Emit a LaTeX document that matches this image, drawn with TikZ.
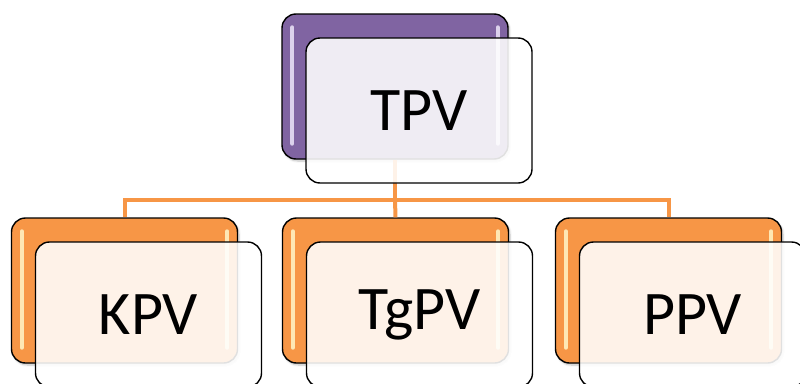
\documentclass[tikz,border=0pt]{standalone}
\usepackage{fontspec}
\setmainfont{Carlito}
\usetikzlibrary{shadows.blur}
\definecolor{accpurple}{HTML}{8064A2}
\definecolor{accorange}{HTML}{F79646}
\definecolor{glowpurple}{HTML}{E6DDF5}
\definecolor{gloworange}{HTML}{FFF0C0}
\tikzset{
  x=1pt, y=-1pt,
  backcard/.style={draw=black, line width=1.4pt, rounded corners=14pt,
    minimum width=226pt, minimum height=145pt, inner sep=0pt,
    blur shadow={shadow xshift=1.5pt, shadow yshift=-2pt, shadow opacity=25, shadow blur steps=6}},
  frontcard/.style={draw=black, line width=1.4pt, rounded corners=14pt,
    minimum width=226pt, minimum height=145pt, inner sep=0pt,
    fill=white, fill opacity=0.88, text opacity=1,
    font=\fontsize{62}{62}\selectfont},
  link/.style={draw=accorange, line width=4pt},
  gloss/.style={line width=4pt, line cap=round, opacity=0.9}
}
\begin{document}
\begin{tikzpicture}
\useasboundingbox (0,0) rectangle (800,383);
\clip (0,0) rectangle (800,383);

% back cards
\node[backcard, fill=accpurple] (top) at (395,86.5) {};
\node[backcard, fill=accorange] (left) at (124.5,290.5) {};
\node[backcard, fill=accorange] (mid) at (395.5,290.5) {};
\node[backcard, fill=accorange] (right) at (668.5,290.5) {};

% glossy side highlights
\foreach \n/\c in {top/glowpurple,left/gloworange,mid/gloworange,right/gloworange}{
  \draw[gloss, draw=\c] ([xshift=11pt,yshift=-14pt]\n.north west) -- ([xshift=11pt,yshift=16pt]\n.south west);
  \draw[gloss, draw=\c] ([xshift=-11pt,yshift=-14pt]\n.north east) -- ([xshift=-11pt,yshift=16pt]\n.south east);
}

% connectors
\coordinate (bus) at (395,200);
\draw[link] (top.south) -- (bus);
\draw[link] (bus) -| (left.north);
\draw[link] (bus) -| (right.north);
\draw[link] (bus) -- (mid.north);

% front cards
\node[frontcard] (tpv) at (419,110.5) {TPV};
\node[frontcard] (kpv) at (148.5,314.5) {KPV};
\node[frontcard] (tgpv) at (419.5,314.5) {TgPV};
\node[frontcard] (ppv) at (692.5,314.5) {PPV};
\end{tikzpicture}
\end{document}
